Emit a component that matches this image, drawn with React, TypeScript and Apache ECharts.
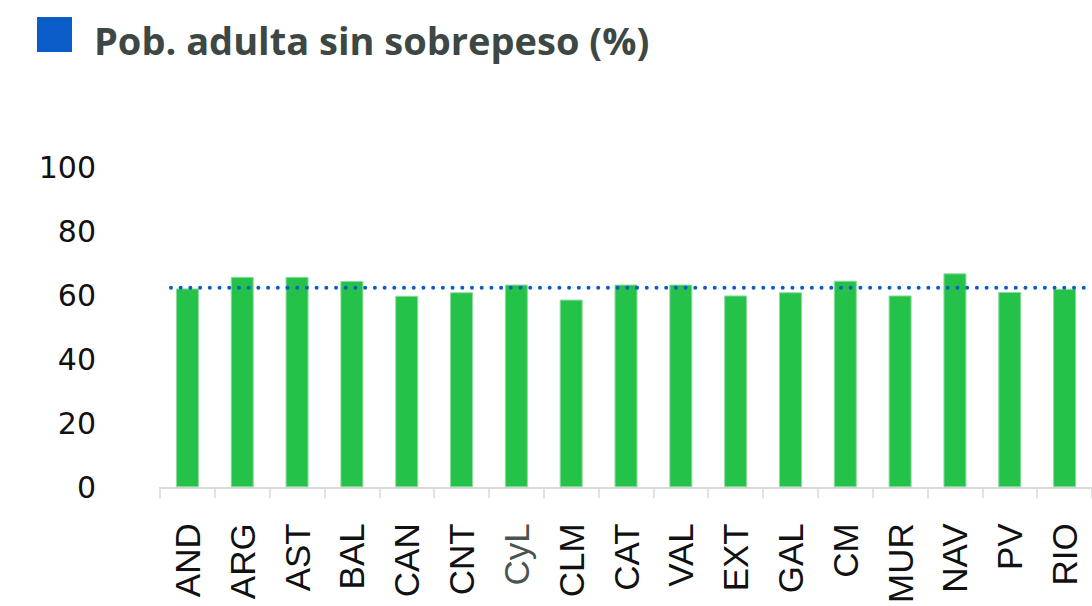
import React, { useEffect, useRef } from "react";
import * as echarts from "echarts";

const categories = ["AND", "ARG", "AST", "BAL", "CAN", "CNT", "CyL", "CLM", "CAT", "VAL", "EXT", "GAL", "CM", "MUR", "NAV", "PV", "RIO"];
const values = [62.1, 65.7, 65.7, 64.4, 59.8, 60.9, 63.3, 58.6, 63.3, 63.3, 59.9, 60.9, 64.5, 59.9, 66.8, 61.0, 62.0];
const averageValue = 62.3;
const averageLine = [[0.2, averageValue], [17, averageValue]];
const yTicks = { min: 0, max: 100, interval: 20 };
const titleText = "Pob. adulta sin sobrepeso (%)";

export default function App() {
  const ref = useRef<HTMLDivElement>(null);
  useEffect(() => {
    if (!ref.current) return;
    const chart = echarts.init(ref.current, null, { renderer: "svg" });
    chart.setOption({
      animation: false,
      grid: { left: 160, right: -10, top: 167, bottom: 118.5, containLabel: false },
      graphic: [
        { type: "rect", shape: { x: 37, y: 17, width: 35, height: 35 }, style: { fill: "#0a5cc8" } },
        {
          type: "text",
          x: 94,
          y: 40,
          style: {
            text: titleText,
            fill: "#3d4744",
            font: "bold 38px 'Open Sans'",
            verticalAlign: "middle",
            align: "left",
          },
        },
      ],
      xAxis: [
        {
          type: "category",
          data: categories,
          boundaryGap: true,
          axisLine: { lineStyle: { color: "#d9d9d9", width: 2 } },
          axisTick: { show: true, length: 11, lineStyle: { color: "#d9d9d9", width: 1.5 } },
          axisLabel: {
            rotate: 90,
            margin: 36,
            fontFamily: "Liberation Sans",
            fontSize: 35,
            color: (v: string) => (v === "CyL" ? "#4a5550" : "#111111"),
            interval: 0,
          },
          splitLine: { show: false },
        },
        { type: "value", min: 0, max: 17, show: false },
      ],
      yAxis: {
        type: "value",
        min: yTicks.min,
        max: yTicks.max,
        interval: yTicks.interval,
        axisLine: { show: false },
        axisTick: { show: false },
        splitLine: { show: false },
        axisLabel: { margin: 64, fontFamily: "DejaVu Sans", fontSize: 30, color: "#111111" },
      },
      series: [
        {
          type: "bar",
          data: values,
          barWidth: 23,
          itemStyle: { color: "#25c249", borderColor: "#8edb9f", borderWidth: 1 },
        },
        {
          type: "line",
          xAxisIndex: 1,
          data: averageLine,
          symbol: "none",
          lineStyle: { color: "#0a5cc8", width: 4, type: [0.01, 9.7], cap: "round" },
          z: 5,
        },
      ],
    });
    return () => chart.dispose();
  }, []);
  return <div ref={ref} style={{ position: "absolute", left: 0, top: 0, width: 1092, height: 606 }} />;
}
